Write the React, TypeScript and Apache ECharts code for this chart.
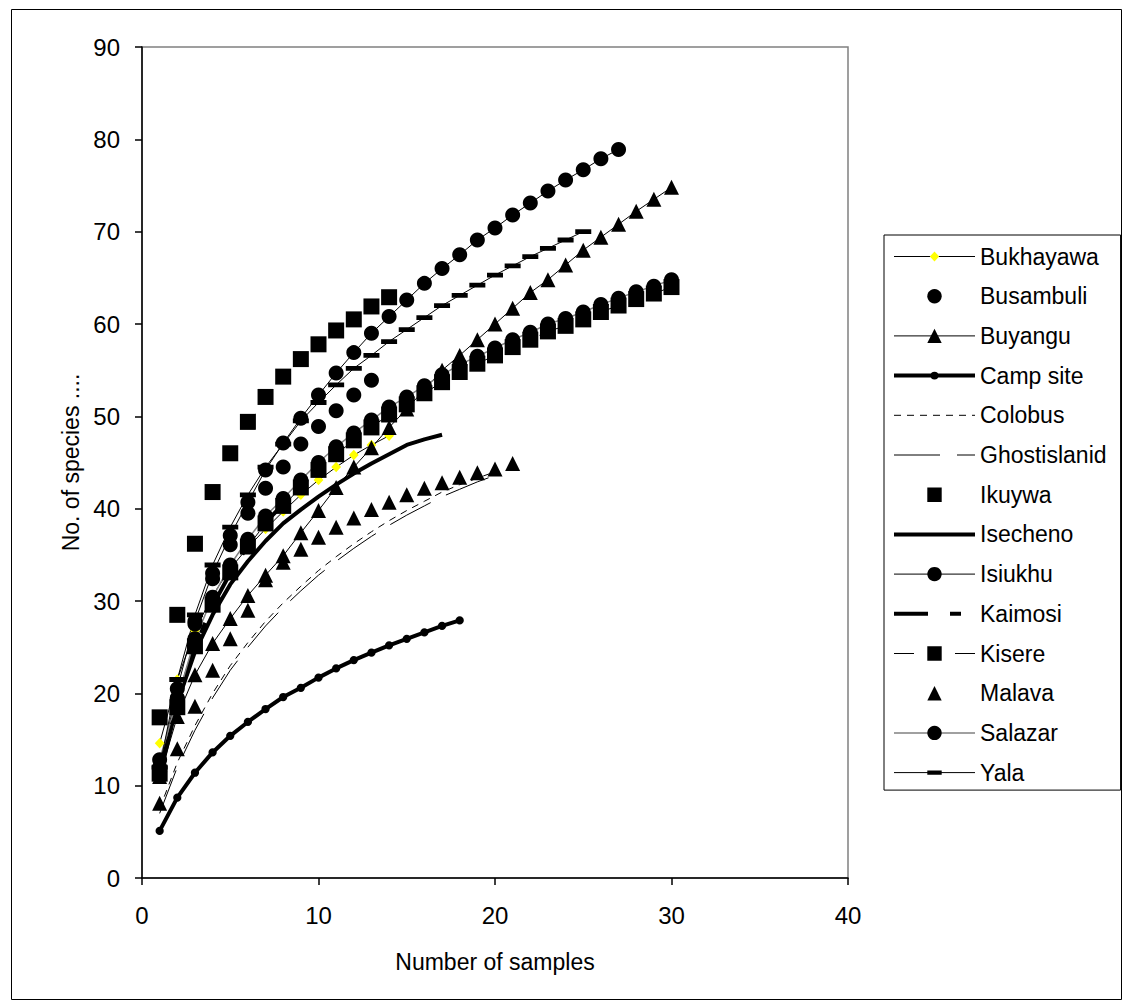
import React, { useEffect, useRef } from "react";
import * as echarts from "echarts";

const FONT = '"Liberation Sans", Arial, Helvetica, sans-serif';

// ---------- data (x = sample number 1..n) ----------
const xTicks = [0, 10, 20, 30, 40];
const yTicks = [0, 10, 20, 30, 40, 50, 60, 70, 80, 90];

const bukhayawa = [14.6, 21.5, 26.8, 30.6, 33.5, 35.8, 37.8, 39.7, 41.5, 43.1, 44.5, 45.8, 46.9, 47.9];
const busambuli = [11.5, 19.5, 27.5, 32.4, 36.1, 39.5, 42.2, 44.5, 47.0, 48.9, 50.6, 52.3, 53.9];
const buyangu = [11, 17.5, 22.0, 25.4, 28.1, 30.6, 32.8, 34.9, 37.4, 39.8, 42.3, 44.5, 46.6, 48.8, 50.8, 52.9, 55.0, 56.6, 58.3, 60.0, 61.7, 63.4, 64.8, 66.4, 68.0, 69.4, 70.8, 72.2, 73.5, 74.8];
const campSite = [5.1, 8.7, 11.4, 13.6, 15.4, 16.9, 18.3, 19.6, 20.6, 21.7, 22.7, 23.6, 24.4, 25.2, 25.9, 26.6, 27.3, 27.9];
const colobus = [7.5, 12.5, 16.5, 20.0, 23.0, 25.5, 27.8, 29.8, 31.6, 33.3, 34.8, 36.2, 37.5, 38.7, 39.8, 40.8, 41.8, 42.6, 43.3, 44.0];
const ghostislanid = [7.0, 12.0, 16.0, 19.5, 22.5, 25.0, 27.3, 29.3, 31.1, 32.8, 34.3, 35.7, 37.0, 38.2, 39.3, 40.3, 41.3, 42.1, 42.9, 43.6];
const ikuywa = [17.4, 28.5, 36.2, 41.8, 46.0, 49.4, 52.1, 54.3, 56.2, 57.8, 59.3, 60.5, 61.9, 62.9];
const isecheno = [11.0, 19.0, 24.5, 28.5, 31.8, 34.3, 36.5, 38.4, 39.9, 41.3, 42.6, 43.8, 44.9, 45.9, 46.9, 47.5, 48.0];
const isiukhu = [12.0, 20.5, 27.8, 33.0, 37.1, 40.7, 44.2, 47.1, 49.8, 52.3, 54.7, 56.9, 59.0, 60.8, 62.6, 64.4, 66.0, 67.5, 69.1, 70.4, 71.8, 73.1, 74.4, 75.6, 76.7, 77.9, 78.9];
const kaimosi = [11.5, 19.0, 25.0, 29.5, 33.0, 36.0, 38.5, 40.5];
const kisere = [11.3, 18.5, 25.1, 29.6, 33.1, 35.9, 38.4, 40.3, 42.3, 44.2, 45.9, 47.4, 48.8, 50.2, 51.3, 52.5, 53.7, 54.8, 55.7, 56.6, 57.5, 58.3, 59.2, 59.8, 60.5, 61.3, 62.0, 62.7, 63.3, 64.0];
const malava = [8.1, 14.0, 18.6, 22.5, 25.9, 29.0, 32.3, 34.2, 35.6, 36.9, 38.0, 39.0, 39.9, 40.7, 41.5, 42.2, 42.8, 43.4, 43.9, 44.3, 44.9];
const salazar = [12.8, 19.4, 25.9, 30.4, 33.9, 36.7, 39.2, 41.1, 43.1, 45.0, 46.7, 48.2, 49.6, 51.0, 52.1, 53.3, 54.5, 55.6, 56.5, 57.4, 58.3, 59.1, 60.0, 60.6, 61.3, 62.1, 62.8, 63.5, 64.1, 64.8];
const yala = [12.0, 21.5, 28.5, 33.9, 38.0, 41.5, 44.5, 47.0, 49.5, 51.5, 53.4, 55.2, 56.6, 58.1, 59.4, 60.7, 62.0, 63.1, 64.2, 65.3, 66.3, 67.3, 68.2, 69.1, 70.0];

// padded symbol paths (tiny corner dots keep a square bounding box)
const DOTS = "M0 0h0.01v0.01h-0.01z M15.99 15.99h0.01v0.01h-0.01z ";
const DASH_SYMBOL = "path://" + DOTS + "M0 5.6h16v4.8h-16z";
const DIAMOND_SYMBOL = "path://" + DOTS + "M8 2.4L13.2 8L8 13.6L2.8 8z";
const SMALL_CIRCLE_SYMBOL = "path://" + DOTS + "M3.6 8A4.4 4.4 0 1 1 12.4 8A4.4 4.4 0 1 1 3.6 8z";

export default function App() {
  const ref = useRef<HTMLDivElement>(null);

  useEffect(() => {
    if (!ref.current) return;
    const chart = echarts.init(ref.current, null, { renderer: "svg" });
    const pts = (arr: number[]) => arr.map((v, i) => [i + 1, v]);
    const hiddenLine = { width: 0, opacity: 0, color: "#000" };
    const noMarker = { color: "rgba(0,0,0,0)", borderWidth: 0 };
    const black = { color: "#000", borderWidth: 0 };

    const series: any[] = [
      { name: "Bukhayawa", data: pts(bukhayawa), symbol: DIAMOND_SYMBOL, symbolSize: 15,
        itemStyle: { color: "#FFFF00", borderWidth: 0 }, lineStyle: { color: "#000", width: 1 } },
      { name: "Busambuli", data: pts(busambuli), symbol: "circle", symbolSize: 15,
        itemStyle: black, lineStyle: hiddenLine },
      { name: "Buyangu", data: pts(buyangu), symbol: "triangle", symbolSize: 15,
        itemStyle: black, lineStyle: { color: "#000", width: 1 } },
      { name: "Camp site", data: pts(campSite), symbol: SMALL_CIRCLE_SYMBOL, symbolSize: 15,
        itemStyle: black, lineStyle: { color: "#000", width: 4 } },
      { name: "Colobus", data: pts(colobus), symbol: "circle", symbolSize: 0,
        itemStyle: noMarker, lineStyle: { color: "#000", width: 1, type: [7, 6] } },
      { name: "Ghostislanid", data: pts(ghostislanid), symbol: "circle", symbolSize: 0,
        itemStyle: noMarker, lineStyle: { color: "#000", width: 1, type: [46, 17] } },
      { name: "Ikuywa", data: pts(ikuywa), symbol: "rect", symbolSize: 16,
        itemStyle: black, lineStyle: hiddenLine },
      { name: "Isecheno", data: pts(isecheno), symbol: "circle", symbolSize: 0,
        itemStyle: noMarker, lineStyle: { color: "#000", width: 4 } },
      { name: "Isiukhu", data: pts(isiukhu), symbol: "circle", symbolSize: 15,
        itemStyle: black, lineStyle: { color: "#000", width: 1 } },
      { name: "Kaimosi", data: pts(kaimosi), symbol: "circle", symbolSize: 0,
        itemStyle: noMarker, lineStyle: { color: "#000", width: 4, type: [34, 22, 11, 22] } },
      { name: "Kisere", data: pts(kisere), symbol: "rect", symbolSize: 16,
        itemStyle: black, lineStyle: { color: "#000", width: 1, type: [20, 41] } },
      { name: "Malava", data: pts(malava), symbol: "triangle", symbolSize: 15,
        itemStyle: black, lineStyle: hiddenLine },
      { name: "Salazar", data: pts(salazar), symbol: "circle", symbolSize: 15,
        itemStyle: black, lineStyle: { color: "#808080", width: 1.5 } },
      { name: "Yala", data: pts(yala), symbol: DASH_SYMBOL, symbolSize: 16,
        itemStyle: black, lineStyle: { color: "#000", width: 1 } },
    ].map((s) => ({ type: "line", smooth: false, showSymbol: true, emphasis: { disabled: true }, ...s }));

    chart.setOption({
      animation: false,
      backgroundColor: "#fff",
      textStyle: { fontFamily: FONT },
      grid: {
        left: 142, top: 47, right: 283, bottom: 130,
        show: true, borderColor: "#808080", borderWidth: 1.5, backgroundColor: "#fff",
      },
      xAxis: {
        type: "value", min: xTicks[0], max: xTicks[xTicks.length - 1], interval: 10,
        name: "Number of samples", nameLocation: "middle", nameGap: 72,
        nameTextStyle: { fontSize: 23, color: "#000", fontFamily: FONT },
        axisLine: { show: true, onZero: false, lineStyle: { color: "#000", width: 1.5 } },
        axisTick: { show: true, inside: false, length: 7, lineStyle: { color: "#000", width: 1.5 } },
        axisLabel: { fontSize: 24, color: "#000", margin: 25, fontFamily: FONT },
        splitLine: { show: false },
      },
      yAxis: {
        type: "value", min: yTicks[0], max: yTicks[yTicks.length - 1], interval: 10,
        name: "No. of species ....", nameLocation: "middle", nameGap: 60, nameRotate: 90,
        nameTextStyle: { fontSize: 23, color: "#000", fontFamily: FONT },
        axisLine: { show: true, onZero: false, lineStyle: { color: "#000", width: 1.5 } },
        axisTick: { show: true, inside: false, length: 7, lineStyle: { color: "#000", width: 1.5 } },
        axisLabel: { fontSize: 24, color: "#000", margin: 22, fontFamily: FONT },
        splitLine: { show: false },
      },
      legend: {
        orient: "vertical", left: 884, top: 235,
        itemWidth: 81, itemHeight: 18, itemGap: 16.7,
        padding: [10, 14, 6, 8],
        borderColor: "#000", borderWidth: 1, backgroundColor: "#fff",
        selectedMode: false,
        lineStyle: { width: "inherit", type: "inherit", color: "inherit", opacity: "inherit" },
        textStyle: { fontSize: 23, color: "#000", fontFamily: FONT, lineHeight: 23 },
        data: series.map((s) => s.name),
      },
      graphic: [
        { type: "rect", silent: true, z: -1,
          shape: { x: 11.5, y: 9.5, width: 1110, height: 990 },
          style: { fill: "none", stroke: "#000", lineWidth: 1 } },
      ],
      series,
    });
    return () => chart.dispose();
  }, []);

  return (
    <div
      ref={ref}
      style={{ position: "absolute", left: 0, top: 0, width: 1131, height: 1008, background: "#fff" }}
    />
  );
}
